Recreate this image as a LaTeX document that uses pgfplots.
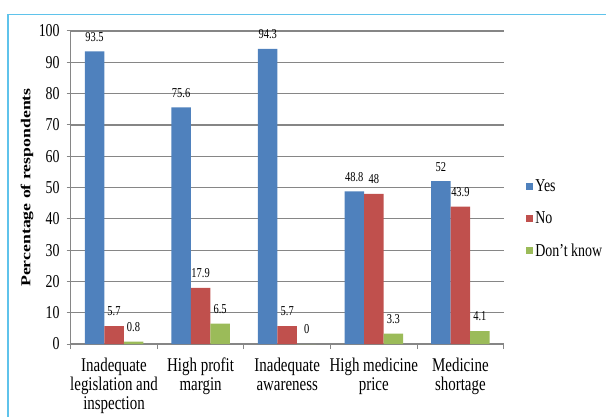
\documentclass[border=0pt]{standalone}
\usepackage{fontspec}
\setmainfont{Liberation Serif}
\usepackage{pgfplots}
\pgfplotsset{compat=1.18}
\definecolor{cyes}{RGB}{79,129,189}
\definecolor{cno}{RGB}{192,80,77}
\definecolor{cdk}{RGB}{155,187,89}
\definecolor{cgrid}{RGB}{134,134,134}
\definecolor{cframe}{RGB}{95,195,235}
\newcommand\vs[1]{\scalebox{1}[1.3]{#1}}
\newcommand\lbl[1]{\scalebox{1}[1.3]{\begin{tabular}{@{}c@{}}#1\end{tabular}}}
\begin{document}
\begin{tikzpicture}[x=1bp,y=1bp]
\path[use as bounding box] (0,0) rectangle (606,417);
\draw[cframe, line width=1.3bp] (8,0) -- (8,402.5) -- (606,402.5);
\begin{axis}[
  at={(70.7bp,73bp)}, anchor=south west,
  scale only axis, width=433bp, height=313bp,
  clip=false,
  ybar=0pt, bar width=19.5bp,
  xmin=-0.5, xmax=4.5, ymin=0, ymax=100,
  xtick={0,...,4},
  xticklabels={{\lbl{Inadequate\\legislation and\\inspection}},{\lbl{High profit\\margin}},{\lbl{Inadequate\\awareness}},{\lbl{High medicine\\price}},{\lbl{Medicine\\shortage}}},
  minor xtick={-0.5,0.5,...,4.5},
  ytick={0,10,...,100},
  axis x line*=bottom, axis y line*=left,
  axis line style={draw=cgrid, line width=1bp, -},
  ymajorgrids, grid style={cgrid, line width=1.2bp},
  tick align=outside, major tick length=4bp, minor tick length=5bp,
  major x tick style={draw=none},
  minor x tick style={draw=cgrid, line width=1bp},
  ytick style={draw=cgrid, line width=1bp},
  /pgf/number format/assume math mode=true,
  nodes near coords={\vs{\pgfmathprintnumber{\pgfplotspointmeta}}},
  nodes near coords style={font=\fontsize{10.5}{11}\selectfont, anchor=south, yshift=6.5bp},
  yticklabel={\vs{\pgfmathprintnumber{\tick}}},
  yticklabel style={font=\fontsize{14}{15}\selectfont, xshift=-3.5bp},
  xticklabel style={font=\fontsize{15}{15}\selectfont, yshift=-6bp},
  ylabel={\scalebox{1.3}[1]{Percentage of respondents}},
  ylabel style={font=\fontsize{13.7}{15}\selectfont\bfseries, at={(rel axis cs:-0.101,0.5)}, anchor=center},
  legend style={at={(rel axis cs:1.045,0.400)}, anchor=west, draw=none, fill=none, font=\fontsize{14}{15}\selectfont, row sep=14.5bp},
  legend cell align=left,
  legend image code/.code={\fill[#1] (0bp,-3.5bp) rectangle (7bp,3.5bp);},
]
\addplot[fill=cyes, draw=none] coordinates {(0,93.5) (1,75.6) (2,94.3) (3,48.8) (4,52)};
\addlegendentry{\vs{Yes}}
\addplot[fill=cno, draw=none] coordinates {(0,5.7) (1,17.9) (2,5.7) (3,48) (4,43.9)};
\addlegendentry{\vs{No}}
\addplot[fill=cdk, draw=none] coordinates {(0,0.8) (1,6.5) (2,0) (3,3.3) (4,4.1)};
\addlegendentry{\vs{Don’t know}}
\end{axis}
\end{tikzpicture}
\end{document}
